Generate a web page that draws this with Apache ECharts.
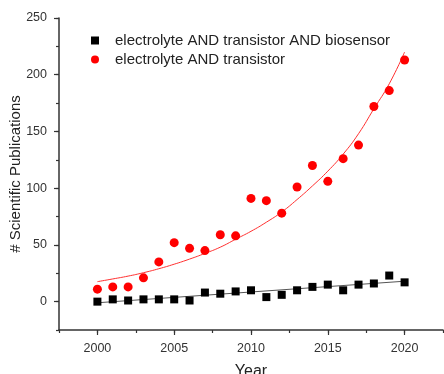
<!DOCTYPE html>
<html>
<head>
<meta charset="utf-8">
<script src="https://cdn.jsdelivr.net/npm/echarts@6/dist/echarts.min.js"></script>
<style>
html,body{margin:0;padding:0;background:#fff;}
#chart{width:444px;height:374px;}
</style>
</head>
<body>
<div id="chart"></div>
<script>
var years = [2000,2001,2002,2003,2004,2005,2006,2007,2008,2009,2010,2011,2012,2013,2014,2015,2016,2017,2018,2019,2020];
var biosensorCounts = [0,2,1,2,2,2,1,8,7,9,10,4,6,10,13,15,10,15,16,23,17];
var transistorCounts = [11,13,13,21,35,52,47,45,59,58,91,89,78,101,120,106,126,138,172,186,213];
// fitted curves
var transistorFit = [17.6,20,22.5,25.5,29,33,37.5,42.5,48,55,62,70,79,90,102,115,130,148,170,192,220];
var biosensorFitYears = [2000,2020];
var biosensorFitValues = [-1,18];
var xTickLabels = [2000,2005,2010,2015,2020];
var yTickLabels = [0,50,100,150,200,250];
var seriesNames = ['electrolyte AND transistor AND biosensor','electrolyte AND transistor'];

function pairs(xs, ys){ return xs.map(function(x,i){ return [x, ys[i]]; }); }

var font = 'Liberation Sans, Arial, sans-serif';
var axisCol = '#333';

var chart = echarts.init(document.getElementById('chart'), null, {renderer:'canvas'});
chart.setOption({
  animation:false,
  backgroundColor:'#fff',
  grid:{left:59, right:1, top:18, bottom:44, containLabel:false, outerBoundsMode:'none'},
  legend:{
    orient:'vertical', left:86, top:28, itemWidth:8, itemHeight:8, itemGap:4,
    data:[{name:seriesNames[0], icon:'rect', itemStyle:{color:'#000'}},{name:seriesNames[1], icon:'circle', itemStyle:{color:'#ff0000'}}],
    textStyle:{fontFamily:font, fontSize:15, lineHeight:15, color:'#222', padding:[0,0,0,11]}
  },
  xAxis:[{
    type:'value', min:1997.5, max:2022.5, position:'bottom',
    name:'Year', nameLocation:'middle', nameGap:34, nameMoveOverlap:false,
    nameTextStyle:{fontFamily:font, fontSize:16, color:'#222'},
    axisLine:{show:true, onZero:false, lineStyle:{color:axisCol, width:1.5}},
    axisTick:{show:true, customValues:xTickLabels, length:5, lineStyle:{color:axisCol, width:1.2}},
    axisLabel:{show:true, customValues:xTickLabels, margin:12, fontFamily:font, fontSize:12.5, color:'#333', formatter:function(v){return String(v);}},
    splitLine:{show:false}
  },{
    type:'value', min:1997.5, max:2022.5, interval:2.5, position:'bottom', offset:0,
    axisLine:{show:false, onZero:false},
    axisTick:{show:true, length:3, lineStyle:{color:axisCol, width:1.2}},
    axisLabel:{show:false}, splitLine:{show:false}
  }],
  yAxis:[{
    type:'value', min:-25, max:250, position:'left',
    name:'# Scientific Publications', nameLocation:'middle', nameGap:36, nameMoveOverlap:false,
    nameTextStyle:{fontFamily:font, fontSize:15, color:'#222'},
    axisLine:{show:true, onZero:false, lineStyle:{color:axisCol, width:1.5}},
    axisTick:{show:true, customValues:yTickLabels, length:5, lineStyle:{color:axisCol, width:1.2}},
    axisLabel:{show:true, customValues:yTickLabels, margin:12, fontFamily:font, fontSize:12.5, color:'#333'},
    splitLine:{show:false}
  },{
    type:'value', min:-25, max:250, interval:25, position:'left', offset:0,
    axisLine:{show:false, onZero:false},
    axisTick:{show:true, length:3, lineStyle:{color:axisCol, width:1.2}},
    axisLabel:{show:false}, splitLine:{show:false}
  }],
  series:[
    {name:'biosensor fit', type:'line', xAxisIndex:0, yAxisIndex:0, data:pairs(biosensorFitYears, biosensorFitValues),
     showSymbol:false, symbol:'none', lineStyle:{color:'#555', width:1}, itemStyle:{color:'#555'}, silent:true, z:1},
    {name:'transistor fit', type:'line', xAxisIndex:0, yAxisIndex:0, data:pairs(years, transistorFit), smooth:true,
     showSymbol:false, symbol:'none', lineStyle:{color:'#ff3030', width:1}, itemStyle:{color:'#ff3030'}, silent:true, z:1},
    {name:seriesNames[0], type:'scatter', xAxisIndex:0, yAxisIndex:0, data:pairs(years, biosensorCounts),
     symbol:'rect', symbolSize:8, itemStyle:{color:'#000', opacity:1}, z:3},
    {name:seriesNames[1], type:'scatter', xAxisIndex:0, yAxisIndex:0, data:pairs(years, transistorCounts),
     symbol:'circle', symbolSize:9, itemStyle:{color:'#ff0000', opacity:1}, z:3}
  ]
});
</script>
</body>
</html>
